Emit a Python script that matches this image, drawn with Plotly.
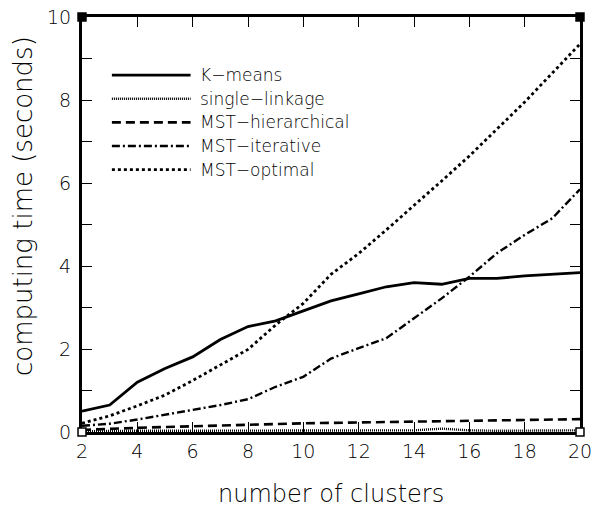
import plotly.graph_objects as go

# Number of clusters
clusters = list(range(2, 21))

# Computing time in seconds for each method
kmeans = [0.50, 0.65, 1.20, 1.53, 1.81, 2.23, 2.54, 2.68, 2.92, 3.16, 3.33, 3.50,
          3.60, 3.56, 3.70, 3.70, 3.76, 3.80, 3.84]
single_linkage = [0.02, 0.03, 0.03, 0.03, 0.03, 0.03, 0.03, 0.03, 0.03, 0.03, 0.03,
                  0.04, 0.04, 0.08, 0.04, 0.03, 0.03, 0.03, 0.04]
mst_hierarchical = [0.05, 0.08, 0.10, 0.12, 0.14, 0.16, 0.18, 0.20, 0.21, 0.22, 0.23,
                    0.24, 0.26, 0.27, 0.28, 0.29, 0.30, 0.30, 0.31]
mst_iterative = [0.15, 0.20, 0.30, 0.42, 0.54, 0.65, 0.79, 1.09, 1.33, 1.77, 2.02,
                 2.26, 2.74, 3.22, 3.74, 4.31, 4.75, 5.15, 5.85]
mst_optimal = [0.21, 0.39, 0.63, 0.89, 1.24, 1.61, 1.99, 2.58, 3.10, 3.80, 4.30,
               4.87, 5.45, 6.05, 6.65, 7.30, 7.95, 8.65, 9.35]

names = ["K\u2212means", "single\u2212linkage", "MST\u2212hierarchical",
         "MST\u2212iterative", "MST\u2212optimal"]
series = [kmeans, single_linkage, mst_hierarchical, mst_iterative, mst_optimal]
dashes = ["solid", "1px,1px", "9px,5px", "8px,3px,2px,3px", "3px,3px"]
widths = [2.8, 2.4, 2.6, 2.4, 2.8]

FONT = "DejaVu Sans, Verdana, sans-serif"

fig = go.Figure()
for name, ys, dash, w in zip(names, series, dashes, widths):
    fig.add_trace(go.Scatter(x=clusters, y=ys, mode="lines", name=name,
                             line=dict(color="black", width=w, dash=dash),
                             showlegend=False))

# Hand-drawn legend in the upper left of the plot area
legend_top = 0.86
legend_step = 0.057
for i, (name, dash, w) in enumerate(zip(names, dashes, widths)):
    yy = legend_top - i * legend_step
    fig.add_shape(type="line", xref="paper", yref="paper",
                  x0=0.06, x1=0.218, y0=yy, y1=yy,
                  line=dict(color="black", width=w, dash=dash))
    fig.add_annotation(x=0.232, y=yy, xref="paper", yref="paper", text=name,
                       showarrow=False, xanchor="left", yanchor="middle",
                       font=dict(family=FONT, size=17, color="black", weight=200))

# Small square markers at the plot-area corners
s = 0.008
for cx, cy, fill in [(0, 1, "black"), (1, 1, "black"), (0, 0, "white"), (1, 0, "white")]:
    fig.add_shape(type="rect", xref="paper", yref="paper",
                  x0=cx - s, x1=cx + s, y0=cy - s * 1.2, y1=cy + s * 1.2,
                  line=dict(color="black", width=1.5), fillcolor=fill)

# Axis titles as free annotations so they don't push the margins
fig.add_annotation(x=-0.118, y=0.545, xref="paper", yref="paper",
                   text="computing time (seconds)", textangle=-90,
                   showarrow=False, xanchor="center", yanchor="middle",
                   font=dict(family=FONT, size=26, color="black", weight=200))
fig.add_annotation(x=0.5, y=-0.15, xref="paper", yref="paper",
                   text="number of clusters",
                   showarrow=False, xanchor="center", yanchor="middle",
                   font=dict(family=FONT, size=24, color="black", weight=200))

axis_common = dict(showgrid=False, zeroline=False, showline=True, linecolor="black",
                   linewidth=3, mirror="ticks", ticks="inside", ticklen=10,
                   tickwidth=1, tickcolor="black", automargin=False,
                   ticklabeloverflow="allow",
                   tickfont=dict(family=FONT, size=19, color="black", weight=200))

fig.update_xaxes(range=[2, 20], tickmode="linear", tick0=2, dtick=2,
                 **axis_common)
fig.update_yaxes(range=[0, 10], tickmode="linear", tick0=0, dtick=2,
                 ticklabelstandoff=4,
                 minor=dict(ticks="inside", ticklen=10, dtick=1, tickcolor="black",
                            tickwidth=1),
                 **axis_common)

fig.update_layout(width=592, height=508,
                  margin=dict(l=82, r=12, t=17, b=76),
                  plot_bgcolor="white", paper_bgcolor="white",
                  showlegend=False)

fig.write_html("out.html")
